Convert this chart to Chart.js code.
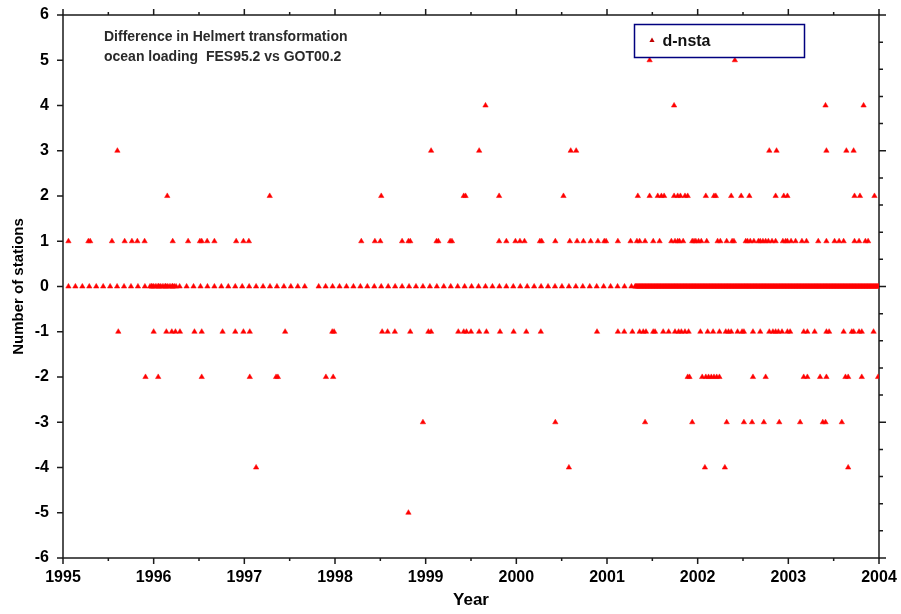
<!DOCTYPE html>
<html>
<head>
<meta charset="utf-8">
<title>d-nsta</title>
<script src="https://cdn.jsdelivr.net/npm/chart.js@4.4.1/dist/chart.umd.min.js"></script>
<style>
  html, body { margin:0; padding:0; background:#fff; }
  #wrap { width:901px; height:614px; }
</style>
</head>
<body>
<div id="wrap"><canvas id="nstaChart" width="901" height="614"></canvas></div>
<script>
// ═══════════════════════════════════════════════════════
//  Helmert transformation — station count difference
// ═══════════════════════════════════════════════════════

const X_MIN = 1995, X_MAX = 2004;
const Y_MIN = -6,   Y_MAX = 6;

const SERIES_LABEL = "d-nsta";
const NOTE_LINES   = ["Difference in Helmert transformation", "ocean loading  FES95.2 vs GOT00.2"];

// epochs (decimal year) where the difference is non-zero, one list per value
const EPOCHS_P5 = [2001.47, 2002.41];
const EPOCHS_P4 = [1999.66, 2001.74, 2003.41, 2003.83];
const EPOCHS_P3 = [1995.60, 1999.06, 1999.59, 2000.60, 2000.66, 2002.79, 2002.87, 2003.42, 2003.64, 2003.72];
const EPOCHS_P2 = [1996.15, 1997.28, 1998.51, 1999.42, 1999.44, 1999.81, 2000.52, 2001.34, 2001.47, 2001.56,
                   2001.60, 2001.63, 2001.74, 2001.78, 2001.81, 2001.86, 2001.89, 2002.09, 2002.18, 2002.20,
                   2002.37, 2002.48, 2002.57, 2002.86, 2002.95, 2002.99, 2003.73, 2003.79, 2003.95];
const EPOCHS_P1 = [1995.06, 1995.28, 1995.30, 1995.54, 1995.68, 1995.76, 1995.82, 1995.90, 1996.21, 1996.38,
                   1996.51, 1996.53, 1996.59, 1996.67, 1996.91, 1996.99, 1997.05,
                   1998.29, 1998.44, 1998.50, 1998.74, 1998.81, 1998.83, 1999.12, 1999.14, 1999.27, 1999.29,
                   1999.81, 1999.89, 1999.99, 2000.04, 2000.09, 2000.26, 2000.28, 2000.43, 2000.59, 2000.67,
                   2000.74, 2000.82, 2000.90, 2000.97, 2000.99,
                   2001.12, 2001.26, 2001.33, 2001.36, 2001.42, 2001.51, 2001.58, 2001.71, 2001.75, 2001.78,
                   2001.80, 2001.84, 2001.94, 2001.96, 2001.98, 2002.01, 2002.04, 2002.10, 2002.22, 2002.25,
                   2002.32, 2002.38, 2002.40, 2002.53, 2002.55, 2002.58, 2002.62, 2002.67, 2002.69, 2002.72,
                   2002.75, 2002.78, 2002.82, 2002.86, 2002.94, 2002.97, 2002.99, 2003.03, 2003.08, 2003.15,
                   2003.20, 2003.33, 2003.42, 2003.51, 2003.56, 2003.61, 2003.73, 2003.78, 2003.85, 2003.88];
const EPOCHS_M1 = [1995.61, 1996.00, 1996.14, 1996.20, 1996.24, 1996.29, 1996.45, 1996.53, 1996.76, 1996.90,
                   1996.99, 1997.06, 1997.45, 1997.97, 1997.99,
                   1998.52, 1998.58, 1998.66, 1998.83, 1999.03, 1999.06, 1999.36, 1999.42, 1999.45, 1999.50,
                   1999.59, 1999.67, 1999.82, 1999.97, 2000.11, 2000.27, 2000.89,
                   2001.12, 2001.19, 2001.28, 2001.36, 2001.40, 2001.43, 2001.51, 2001.53, 2001.62, 2001.68,
                   2001.75, 2001.79, 2001.82, 2001.86, 2001.90, 2002.03, 2002.11, 2002.17, 2002.24, 2002.31,
                   2002.34, 2002.37, 2002.44, 2002.49, 2002.51, 2002.61, 2002.69, 2002.79, 2002.83, 2002.86,
                   2002.89, 2002.93, 2002.99, 2003.02, 2003.17, 2003.21, 2003.29, 2003.42, 2003.45, 2003.61,
                   2003.70, 2003.72, 2003.78, 2003.81, 2003.94];
const EPOCHS_M2 = [1995.91, 1996.05, 1996.53, 1997.06, 1997.35, 1997.37, 1997.90, 1997.98,
                   2001.89, 2001.91, 2002.05, 2002.09, 2002.12, 2002.15, 2002.18, 2002.21, 2002.24, 2002.61,
                   2002.75, 2003.17, 2003.21, 2003.35, 2003.42, 2003.63, 2003.66, 2003.81, 2003.99];
const EPOCHS_M3 = [1998.97, 2000.43, 2001.42, 2001.94, 2002.32, 2002.51, 2002.60, 2002.73, 2002.90, 2003.13,
                   2003.38, 2003.41, 2003.59];
const EPOCHS_M4 = [1997.13, 2000.58, 2002.08, 2002.30, 2003.66];
const EPOCHS_M5 = [1998.81];

// solutions with no difference: [first epoch, last epoch, spacing in days]
const ZERO_RUNS = [
  [1995.06, 1997.68, 28],
  [1995.96, 1996.26,  7],
  [1997.82, 2001.28, 28],
  [2001.31, 2004.00,  3],
];

const INK  = "#1a1a1a";
const MARK = "#ff0000";
const FONT = "'Liberation Sans', Arial, Helvetica, sans-serif";

// ── Build the point list ─────────────────────────────────
const points = [];
ZERO_RUNS.forEach(([from, to, days]) => {
  for (let t = from; t <= to + 1e-9; t += days / 365.25) points.push({ x: t, y: 0 });
});
[[5, EPOCHS_P5], [4, EPOCHS_P4], [3, EPOCHS_P3], [2, EPOCHS_P2], [1, EPOCHS_P1],
 [-1, EPOCHS_M1], [-2, EPOCHS_M2], [-3, EPOCHS_M3], [-4, EPOCHS_M4], [-5, EPOCHS_M5]]
  .forEach(([v, list]) => list.forEach(t => points.push({ x: t, y: v })));

// ── Frame, tick marks, note and legend box ───────────────
const frame = {
  id: "frame",
  beforeDatasetsDraw(chart) {
    const { ctx, chartArea: a, scales: { x, y } } = chart;
    ctx.save();
    ctx.strokeStyle = INK;
    ctx.lineWidth = 1.5;
    ctx.strokeRect(a.left, a.top, a.right - a.left, a.bottom - a.top);
    ctx.beginPath();
    // years + half years, top and bottom
    for (let i = 0; i <= (X_MAX - X_MIN) * 2; i++) {
      const px = x.getPixelForValue(X_MIN + i / 2);
      const len = i % 2 ? 3 : 6;
      ctx.moveTo(px, a.bottom); ctx.lineTo(px, a.bottom + len);
      ctx.moveTo(px, a.top);    ctx.lineTo(px, a.top - len);
    }
    // integer ticks on the left
    for (let v = Y_MIN; v <= Y_MAX; v++) {
      const py = y.getPixelForValue(v);
      ctx.moveTo(a.left - 6, py); ctx.lineTo(a.left, py);
    }
    // right side: 0.6 steps, longer every 3
    for (let i = 0; i <= 20; i++) {
      const py = y.getPixelForValue(Y_MIN + i * 0.6);
      ctx.moveTo(a.right, py); ctx.lineTo(a.right + (i % 5 ? 4 : 7), py);
    }
    ctx.stroke();

    // note in the upper left
    ctx.fillStyle = "#2a2a2a";
    ctx.font = "bold 14px " + FONT;
    ctx.textBaseline = "middle";
    NOTE_LINES.forEach((line, i) => ctx.fillText(line, a.left + 41, a.top + 22 + i * 20));
    ctx.restore();
  },
  afterDraw(chart) {
    const { ctx, chartArea: a } = chart;
    const bx = 634.5, by = a.top + 9.5, bw = 170, bh = 33;
    ctx.save();
    ctx.fillStyle = "#fff";
    ctx.fillRect(bx, by, bw, bh);
    ctx.strokeStyle = "#00007f";
    ctx.lineWidth = 1.5;
    ctx.strokeRect(bx, by, bw, bh);
    // marker sample
    const mx = bx + 17.5, my = by + 16;
    ctx.fillStyle = "#c00000";
    ctx.beginPath();
    ctx.moveTo(mx, my - 3); ctx.lineTo(mx + 2.6, my + 1.5); ctx.lineTo(mx - 2.6, my + 1.5);
    ctx.closePath();
    ctx.fill();
    ctx.fillStyle = "#111";
    ctx.font = "bold 16px " + FONT;
    ctx.textBaseline = "middle";
    ctx.fillText(chart.data.datasets[0].label, bx + 28, by + 17);
    ctx.restore();
  }
};

// ── Chart ────────────────────────────────────────────────
new Chart(document.getElementById("nstaChart").getContext("2d"), {
  type: "scatter",
  data: {
    datasets: [{
      label: SERIES_LABEL,
      data: points,
      pointStyle: "triangle",
      pointRadius: 3.1,
      borderWidth: 0.5,
      backgroundColor: MARK,
      borderColor: MARK,
    }]
  },
  options: {
    responsive: false,
    animation: false,
    events: [],
    layout: { autoPadding: false, padding: { top: 15, right: 22, left: 0, bottom: 0 } },
    plugins: { legend: { display: false }, tooltip: { enabled: false } },
    scales: {
      x: {
        type: "linear", min: X_MIN, max: X_MAX,
        grid: { display: false, drawTicks: false },
        border: { display: false },
        ticks: { stepSize: 1, padding: 10, maxRotation: 0, color: "#000",
                 font: { family: FONT, size: 16, weight: "bold" },
                 callback: v => String(v) },
        title: { display: true, text: "Year", color: "#000", padding: { top: 0, bottom: 3 },
                 font: { family: FONT, size: 17, weight: "bold" } },
        afterFit: s => { s.height = 56; s.paddingLeft = 0; s.paddingRight = 0; }
      },
      y: {
        min: Y_MIN, max: Y_MAX,
        grid: { display: false, drawTicks: false },
        border: { display: false },
        ticks: { stepSize: 1, padding: 14, color: "#000",
                 font: { family: FONT, size: 16, weight: "bold" } },
        title: { display: true, text: "Number of stations", color: "#000", padding: { top: 10, bottom: 0 },
                 font: { family: FONT, size: 15, weight: "bold" } },
        afterFit: s => { s.width = 63; s.paddingTop = 0; s.paddingBottom = 0; }
      }
    }
  },
  plugins: [frame]
});
</script>
</body>
</html>
